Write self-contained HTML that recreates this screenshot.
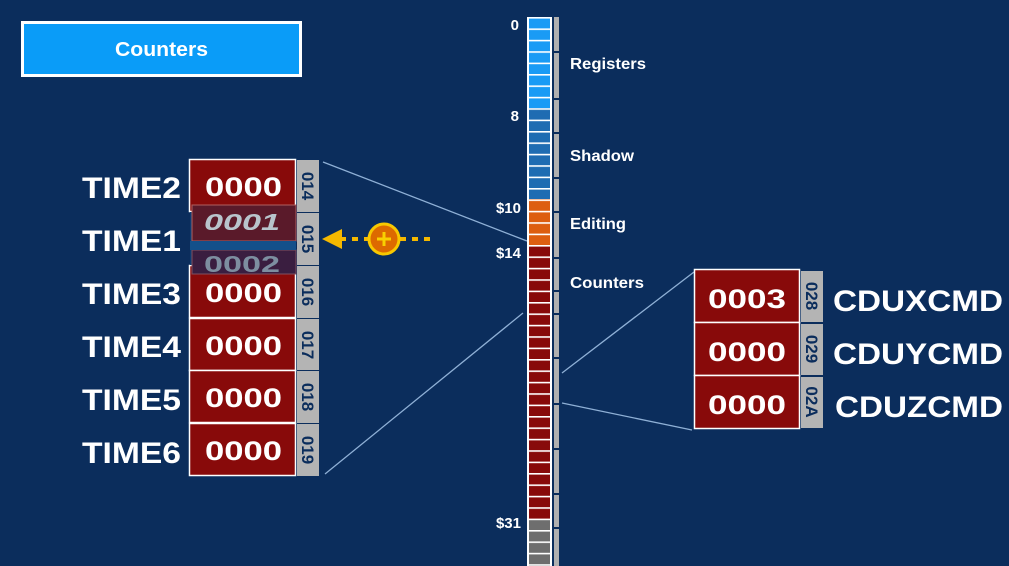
<!DOCTYPE html>
<html><head><meta charset="utf-8"><style>
body{margin:0;width:1009px;height:566px;overflow:hidden;background:#0b2d5c;}
svg{display:block;font-family:"Liberation Sans",sans-serif;font-weight:bold}
</style></head><body>
<svg width="1009" height="566" viewBox="0 0 1009 566">
<defs>
<pattern id="st" x="0" y="17" width="30" height="11.4" patternUnits="userSpaceOnUse">
<rect x="0" y="0" width="30" height="1.6" fill="#fff"/>
</pattern>
</defs>
<rect width="1009" height="566" fill="#0b2d5c"/>
<rect x="22.5" y="22.5" width="278" height="53" fill="#0a9cf8" stroke="#fff" stroke-width="3"/>
<text x="115" y="56" fill="#fff" font-size="20" textLength="93" lengthAdjust="spacingAndGlyphs">Counters</text>

<g stroke="#8fb0d6" stroke-width="1.3">
<line x1="323" y1="162" x2="527" y2="241"/>
<line x1="325" y1="474" x2="523" y2="313"/>
<line x1="562" y1="373" x2="694" y2="272"/>
<line x1="562" y1="403" x2="692" y2="430"/>
</g>

<rect x="527" y="17" width="25" height="560" fill="#fff"/>
<rect x="529" y="17" width="21" height="91" fill="#1a9bf5"/>
<rect x="529" y="108" width="21" height="91" fill="#1f6cb2"/>
<rect x="529" y="199" width="21" height="46" fill="#dd5e10"/>
<rect x="529" y="245" width="21" height="274" fill="#880a0a"/>
<rect x="529" y="519" width="21" height="60" fill="#6e6e6e"/>
<rect x="527" y="17" width="25" height="560" fill="url(#st)"/>
<rect x="554" y="17" width="5" height="560" fill="#b0b0b0"/>
<g fill="#0b2d5c">
<rect x="554" y="51" width="5" height="2"/><rect x="554" y="98" width="5" height="2"/>
<rect x="554" y="132" width="5" height="2"/><rect x="554" y="177" width="5" height="2"/>
<rect x="554" y="211" width="5" height="2"/><rect x="554" y="257" width="5" height="2"/>
<rect x="554" y="290" width="5" height="2"/><rect x="554" y="313" width="5" height="2"/>
<rect x="554" y="357" width="5" height="2"/><rect x="554" y="403" width="5" height="2"/>
<rect x="554" y="448" width="5" height="2"/><rect x="554" y="493" width="5" height="2"/>
<rect x="554" y="527" width="5" height="2"/>
</g>
<g fill="#fff" font-size="15" text-anchor="end">
<text x="519" y="30">0</text>
<text x="519" y="121">8</text>
<text x="521" y="213">$10</text>
<text x="521" y="258">$14</text>
<text x="521" y="528">$31</text>
</g>
<g fill="#fff" font-size="16">
<text x="570" y="69" textLength="76" lengthAdjust="spacingAndGlyphs">Registers</text>
<text x="570" y="161" textLength="64" lengthAdjust="spacingAndGlyphs">Shadow</text>
<text x="570" y="229" textLength="56" lengthAdjust="spacingAndGlyphs">Editing</text>
<text x="570" y="288" textLength="74" lengthAdjust="spacingAndGlyphs">Counters</text>
</g>

<g fill="#880a0a" stroke="#fff" stroke-width="1.5">
<rect x="189.5" y="159.5" width="106" height="52"/>
<rect x="189.5" y="265.5" width="106" height="52"/>
<rect x="189.5" y="318.5" width="106" height="52"/>
<rect x="189.5" y="370.5" width="106" height="52"/>
<rect x="189.5" y="423.5" width="106" height="52"/>
</g>
<rect x="190" y="212" width="106" height="53" fill="#0d3a70"/>
<rect x="192" y="205" width="104" height="36" fill="#5a1a2a" stroke="#b06060" stroke-width="1"/>
<rect x="192" y="250" width="104" height="24" fill="#3a1e40" stroke="#805060" stroke-width="1"/>
<rect x="190" y="241" width="106" height="9" fill="#14508a"/>
<text x="204" y="230" fill="#b8c4cc" font-size="23" font-style="italic" textLength="76" lengthAdjust="spacingAndGlyphs">0001</text>
<text x="204" y="272" fill="#7d8ea0" font-size="23" textLength="76" lengthAdjust="spacingAndGlyphs">0002</text>
<g fill="#fff" font-size="27">
<text x="205" y="196" textLength="77" lengthAdjust="spacingAndGlyphs">0000</text>
<text x="205" y="302" textLength="77" lengthAdjust="spacingAndGlyphs">0000</text>
<text x="205" y="355" textLength="77" lengthAdjust="spacingAndGlyphs">0000</text>
<text x="205" y="407" textLength="77" lengthAdjust="spacingAndGlyphs">0000</text>
<text x="205" y="460" textLength="77" lengthAdjust="spacingAndGlyphs">0000</text>
</g>
<g fill="#b4b4b4">
<rect x="297" y="160" width="22" height="52"/><rect x="297" y="213" width="22" height="52"/>
<rect x="297" y="266" width="22" height="52"/><rect x="297" y="319" width="22" height="51"/>
<rect x="297" y="371" width="22" height="52"/><rect x="297" y="424" width="22" height="52"/>
</g>
<g fill="#0b2d5c" font-size="17" text-anchor="middle">
<text transform="translate(302,186) rotate(90)">014</text>
<text transform="translate(302,239) rotate(90)">015</text>
<text transform="translate(302,292) rotate(90)">016</text>
<text transform="translate(302,345) rotate(90)">017</text>
<text transform="translate(302,397) rotate(90)">018</text>
<text transform="translate(302,450) rotate(90)">019</text>
</g>
<g fill="#fff" font-size="30">
<text x="82" y="198" textLength="99" lengthAdjust="spacingAndGlyphs">TIME2</text>
<text x="82" y="251" textLength="99" lengthAdjust="spacingAndGlyphs">TIME1</text>
<text x="82" y="304" textLength="99" lengthAdjust="spacingAndGlyphs">TIME3</text>
<text x="82" y="357" textLength="99" lengthAdjust="spacingAndGlyphs">TIME4</text>
<text x="82" y="410" textLength="99" lengthAdjust="spacingAndGlyphs">TIME5</text>
<text x="82" y="463" textLength="99" lengthAdjust="spacingAndGlyphs">TIME6</text>
</g>

<line x1="340" y1="239" x2="430" y2="239" stroke="#f5b800" stroke-width="4" stroke-dasharray="6,6"/>
<polygon points="322,239 342,229 342,249" fill="#f5b800"/>
<circle cx="384" cy="239" r="15" fill="#dd6a00" stroke="#f8c800" stroke-width="3"/>
<path d="M377 239h14M384 232v14" stroke="#f8d000" stroke-width="3"/>

<g fill="#880a0a" stroke="#fff" stroke-width="1.5">
<rect x="694.5" y="269.5" width="105" height="53"/>
<rect x="694.5" y="322.5" width="105" height="53"/>
<rect x="694.5" y="375.5" width="105" height="53"/>
</g>
<g fill="#fff" font-size="27">
<text x="708" y="308" textLength="78" lengthAdjust="spacingAndGlyphs">0003</text>
<text x="708" y="361" textLength="78" lengthAdjust="spacingAndGlyphs">0000</text>
<text x="708" y="414" textLength="78" lengthAdjust="spacingAndGlyphs">0000</text>
</g>
<g fill="#b4b4b4">
<rect x="801" y="271" width="22" height="51"/><rect x="801" y="324" width="22" height="51"/><rect x="801" y="377" width="22" height="51"/>
</g>
<g fill="#0b2d5c" font-size="17" text-anchor="middle">
<text transform="translate(806,296) rotate(90)">028</text>
<text transform="translate(806,349) rotate(90)">029</text>
<text transform="translate(806,402) rotate(90)">02A</text>
</g>
<g fill="#fff" font-size="30">
<text x="833" y="311" textLength="170" lengthAdjust="spacingAndGlyphs">CDUXCMD</text>
<text x="833" y="364" textLength="170" lengthAdjust="spacingAndGlyphs">CDUYCMD</text>
<text x="835" y="417" textLength="168" lengthAdjust="spacingAndGlyphs">CDUZCMD</text>
</g>
</svg>
</body></html>
